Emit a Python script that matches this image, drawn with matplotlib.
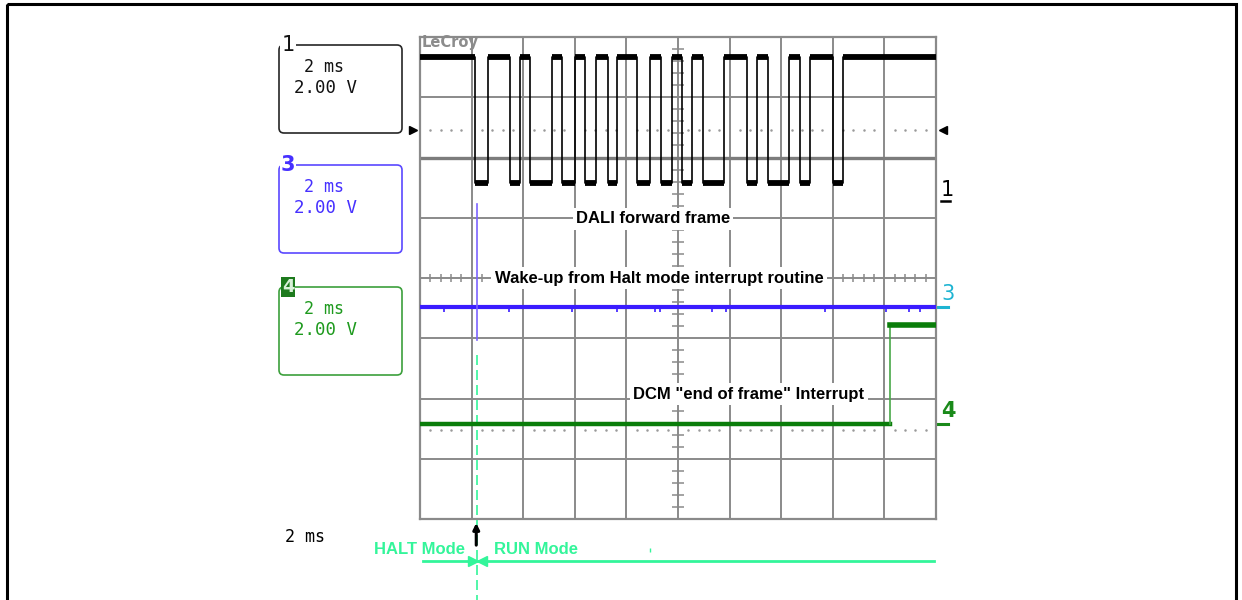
import numpy as np
import matplotlib.pyplot as plt
from matplotlib.patches import FancyBboxPatch, Rectangle

# time axis in ms (2 ms/div, 10 div), vertical axis in divisions (0 = bottom, 8 = top)
ch1_edges = [2.12, 2.62, 3.49, 3.88, 4.26, 5.12, 5.50, 6.01, 6.40, 6.82, 7.29, 7.64,
             8.41, 8.91, 9.34, 9.77, 10.16, 10.54, 10.97, 11.78, 12.67, 13.06,
             13.49, 14.30, 14.73, 15.12, 16.01, 16.40]
ch1_high = 7.67
ch1_low = 5.58
ch1_ref = 6.46

ch3_level = 3.52
ch3_glitches = [0.93, 3.45, 5.89, 7.64, 9.11, 9.30, 11.32, 11.86, 15.70, 18.06, 18.95, 19.38]
wake_time = 2.22

ch4_low = 1.58
ch4_high = 3.22
ch4_rise = 18.2
ch4_ref = 1.48

boxes = [("1", 45, "#262626", "#111111"),
         ("3", 165, "#5a48ff", "#4630ff"),
         ("4", 287, "#3ca03c", "#1e9a1e")]
box_lines = ["2 ms", "2.00 V"]

GRID = "#8a8a8a"
GREEN_LT = "#33f59a"

fig = plt.figure(figsize=(12.42, 6.0), dpi=100)

# overlay in pixel units for the panel decoration
ov = fig.add_axes([0, 0, 1, 1])
ov.set_xlim(0, 1242)
ov.set_ylim(600, 0)
ov.axis("off")
ov.add_patch(Rectangle((7, 4), 1229, 620, fill=False, lw=2.2, color="black"))

for lab, top, ec, tc in boxes:
    ov.add_patch(FancyBboxPatch((279, top), 123, 88, boxstyle="round,pad=0,rounding_size=5",
                                fill=False, ec=ec, lw=1.2))
    ov.text(324, top + 22, box_lines[0], family="DejaVu Sans Mono", fontsize=12,
            color=tc, ha="center", va="center")
    ov.text(326, top + 43, box_lines[1], family="DejaVu Sans Mono", fontsize=12.5,
            color=tc, ha="center", va="center")
    if lab == "4":
        ov.text(288, top, lab, fontsize=13, fontweight="bold", color="#d8f0d8",
                ha="center", va="center",
                bbox=dict(boxstyle="square,pad=0.05", fc="#1d7a1d", ec="none"))
    else:
        ov.text(288, top, lab, fontsize=15, fontweight="bold" if lab == "3" else "normal",
                color=tc, ha="center", va="center",
                bbox=dict(boxstyle="square,pad=0.05", fc="white", ec="none"))

ov.text(285, 537, "2 ms", family="DejaVu Sans Mono", fontsize=12, color="black",
        ha="left", va="center")

# scope screen
ax = fig.add_axes([420 / 1242, 81 / 600, 516 / 1242, 482 / 600])
ax.set_xlim(0, 20)
ax.set_ylim(0, 8)
ax.set_xticks(np.arange(0, 21, 2))
ax.set_yticks(range(9))
ax.grid(True, color=GRID, lw=1.4)
ax.tick_params(length=0, labelbottom=False, labelleft=False)
for s in ax.spines.values():
    s.set_color(GRID)
    s.set_linewidth(1.6)
ax.axhline(6, color="#7c7c7c", lw=2.4)

# centre axes with fine ticks
fine_x = [x for x in np.arange(0.4, 20, 0.4) if abs(x / 2 - round(x / 2)) > 0.01]
fine_y = [y for y in np.arange(0.2, 8, 0.2) if abs(y - round(y)) > 0.01]
ax.plot(fine_x, [4] * len(fine_x), "|", ms=6, color=GRID, mew=1.1)
ax.plot([10] * len(fine_y), fine_y, "_", ms=8, color=GRID, mew=1.1)

# reference dotted levels
for lvl in (ch1_ref, ch4_ref):
    ax.plot(fine_x, [lvl] * len(fine_x), ".", ms=1.6, color="#9a9a9a")
ax.plot([-0.28], [ch1_ref], ">", ms=6, color="black", clip_on=False)
ax.plot([20.28], [ch1_ref], "<", ms=6, color="black", clip_on=False)

ax.text(0.05, 8.03, "LeCroy", fontsize=10.5, fontweight="bold", color="#8c8c8c",
        ha="left", va="top", zorder=2)

# channel 1: DALI frame
t_pts = [0.0]
y_pts = [ch1_high]
seg_start = 0.0
levels = [ch1_high, ch1_low]
for i, e in enumerate(ch1_edges):
    cur = levels[i % 2]
    nxt = levels[(i + 1) % 2]
    ax.hlines(cur, seg_start, e, color="black", lw=4.2, zorder=4)
    t_pts += [e, e]
    y_pts += [cur, nxt]
    seg_start = e
ax.hlines(ch1_high, seg_start, 20, color="black", lw=4.2, zorder=4)
t_pts.append(20.0)
y_pts.append(ch1_high)
ax.plot(t_pts, y_pts, color="black", lw=1.2, zorder=4)

# channel 3: wake-up routine
ax.axhline(ch3_level, color="#3a1cff", lw=3, zorder=4)
ax.vlines(ch3_glitches, ch3_level - 0.09, ch3_level, color="#3a1cff", lw=1.2, zorder=4)
ax.plot([wake_time, wake_time], [2.97, 5.23], color="#7c64ff", lw=1.2, zorder=4)

# channel 4: end of frame interrupt
ax.plot([0, ch4_rise], [ch4_low, ch4_low], color="#0a7d0a", lw=3.2, zorder=4)
ax.plot([ch4_rise, ch4_rise], [ch4_low, ch4_high], color="#48a848", lw=1.2, zorder=4)
ax.plot([ch4_rise, 20], [ch4_high, ch4_high], color="#0a7d0a", lw=4, zorder=4)

# channel labels on the right
ax.text(20.2, 5.46, "1", fontsize=15, color="black", ha="left", va="center", clip_on=False)
ax.plot([20.18, 20.55], [5.27, 5.27], color="black", lw=1.8, clip_on=False)
ax.text(20.2, 3.74, "3", fontsize=15, color="#1eb4d2", ha="left", va="center", clip_on=False)
ax.plot([20.08, 20.45], [ch3_level, ch3_level], color="#1eb4d2", lw=2.2, clip_on=False)
ax.text(20.2, 1.8, "4", fontsize=15, fontweight="bold", color="#1a8a1a", ha="left",
        va="center", clip_on=False)
ax.plot([20.08, 20.45], [ch4_low, ch4_low], color="#1a8a1a", lw=2.2, clip_on=False)

# annotations
box = dict(boxstyle="square,pad=0.2", fc="white", ec="none")
ax.text(9.03, 4.98, "DALI forward frame", fontsize=12, fontweight="bold",
        family="Liberation Sans", ha="center", va="center", bbox=box, zorder=5)
ax.text(9.26, 4.0, "Wake-up from Halt mode interrupt routine", fontsize=12,
        fontweight="bold", family="Liberation Sans", ha="center", va="center",
        bbox=box, zorder=5)
ax.text(12.75, 2.07, "DCM \"end of frame\" Interrupt", fontsize=12, fontweight="bold",
        family="Liberation Sans", ha="center", va="center", bbox=box, zorder=5)

# halt / run mode marker below the screen
ax.plot([wake_time, wake_time], [2.72, -1.45], color=GREEN_LT, lw=1.2,
        ls=(0, (6, 3)), clip_on=False, zorder=3)
ax.annotate("", xy=(wake_time - 0.04, -0.02), xytext=(wake_time - 0.04, -0.48),
            arrowprops=dict(arrowstyle="-|>", color="black", lw=2.2, mutation_scale=9),
            annotation_clip=False)
ax.plot([0.12, 19.92], [-0.70, -0.70], color=GREEN_LT, lw=2, clip_on=False)
ax.plot([wake_time - 0.17], [-0.70], ">", ms=7, color=GREEN_LT, clip_on=False)
ax.plot([wake_time + 0.17], [-0.70], "<", ms=7, color=GREEN_LT, clip_on=False)
ax.plot([8.91], [-0.52], "|", ms=3, color=GREEN_LT, clip_on=False)
ax.text(1.74, -0.51, "HALT Mode", fontsize=12, fontweight="bold", family="Liberation Sans",
        color=GREEN_LT, ha="right", va="center", clip_on=False)
ax.text(2.87, -0.51, "RUN Mode", fontsize=12, fontweight="bold", family="Liberation Sans",
        color=GREEN_LT, ha="left", va="center", clip_on=False)

fig.savefig("out.png", dpi=100)
